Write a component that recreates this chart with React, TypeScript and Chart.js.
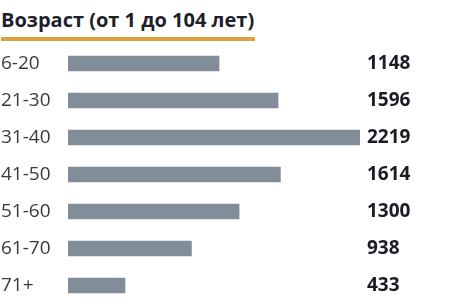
import React, { useEffect, useRef } from "react";
import { Chart, registerables } from "chart.js";

Chart.register(...registerables);

const title = "Возраст (от 1 до 104 лет)";
const categories = ["6-20", "21-30", "31-40", "41-50", "51-60", "61-70", "71+"];
const values = [1148, 1596, 2219, 1614, 1300, 938, 433];
const valueLabels = values.map((v) => String(v));

export default function App() {
  const ref = useRef<HTMLCanvasElement | null>(null);

  useEffect(() => {
    document.body.style.margin = "0";
    const ctx = ref.current!.getContext("2d")!;
    const zeroPad = (s: any) => {
      s.paddingTop = 0;
      s.paddingBottom = 0;
    };
    const chart = new Chart(ctx, {
      type: "bar",
      data: {
        labels: categories,
        datasets: [
          {
            data: values,
            backgroundColor: "#818e9a",
            barThickness: 15,
            yAxisID: "y",
          },
        ],
      },
      options: {
        indexAxis: "y",
        animation: false,
        responsive: false,
        maintainAspectRatio: false,
        layout: { padding: { left: 1, right: 0, top: 0, bottom: 0 } },
        plugins: { legend: { display: false }, tooltip: { enabled: false }, title: { display: false } },
        scales: {
          x: { display: false, min: 0, max: 2219 },
          y: {
            position: "left",
            grid: { display: false, drawTicks: false },
            border: { display: false },
            ticks: {
              crossAlign: "far",
              padding: 0,
              color: "#3a3a3a",
              font: { family: "'Open Sans'", size: 19 },
            },
            afterFit: (s: any) => {
              s.width = 67;
              zeroPad(s);
            },
          },
          y2: {
            position: "right",
            type: "category",
            labels: valueLabels,
            grid: { display: false, drawTicks: false },
            border: { display: false },
            ticks: {
              crossAlign: "near",
              padding: 7,
              color: "#1c1c24",
              font: { family: "'Open Sans'", size: 19, weight: "bold" },
            },
            afterFit: (s: any) => {
              s.width = 101;
              zeroPad(s);
            },
          },
        },
      },
    });
    return () => chart.destroy();
  }, []);

  return (
    <div style={{ position: "relative", width: 461, height: 304, background: "#fff", overflow: "hidden" }}>
      <div
        style={{
          position: "absolute",
          left: 1,
          top: 8,
          fontFamily: "'Open Sans'",
          fontWeight: 700,
          fontSize: 20,
          lineHeight: "24px",
          color: "#1f1f2b",
          paddingRight: 1,
          borderBottom: "4px solid #d9a43f",
          paddingBottom: 5,
          whiteSpace: "nowrap",
        }}
      >
        {title}
      </div>
      <canvas ref={ref} width={461} height={259} style={{ position: "absolute", left: 0, top: 45 }} />
    </div>
  );
}
